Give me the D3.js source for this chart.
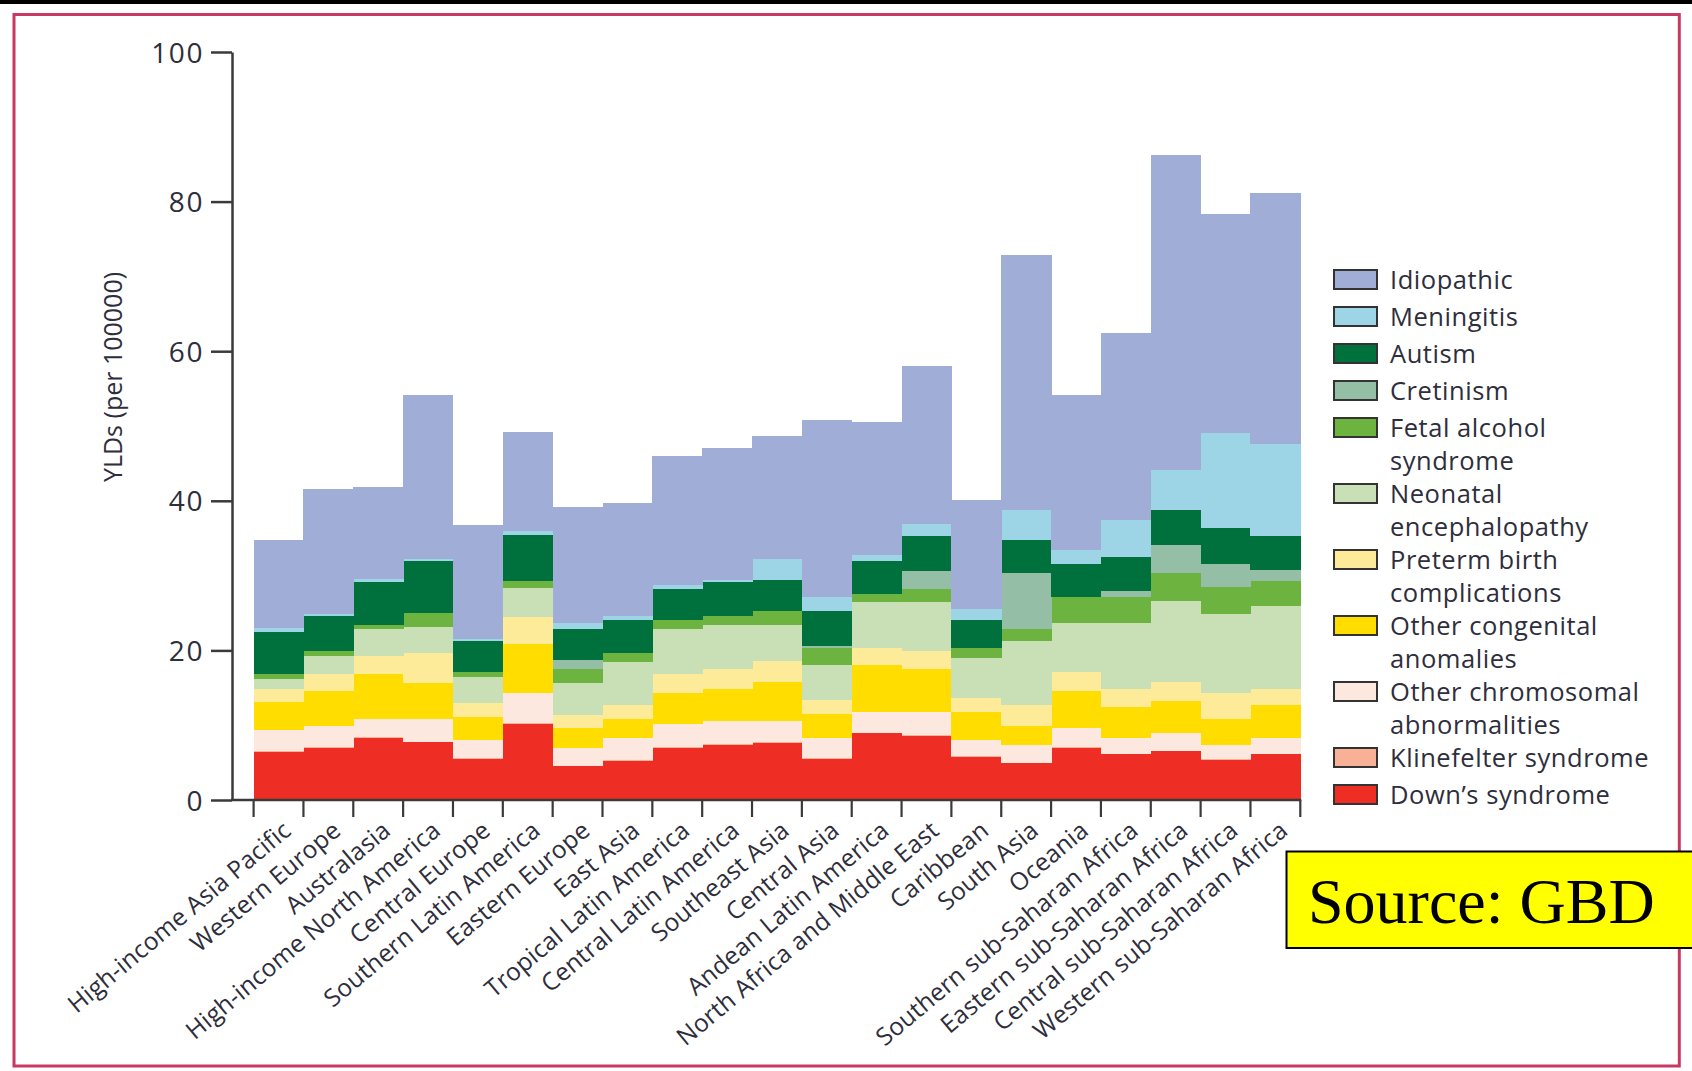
<!DOCTYPE html>
<html>
<head>
<meta charset="utf-8">
<script src="https://cdn.jsdelivr.net/npm/d3@7"></script>
<style>
  html, body { margin: 0; padding: 0; background: #fff; }
  svg { display: block; }
</style>
</head>
<body>
<svg id="chart" width="1692" height="1071"></svg>
<script>
// GBD regions, in plotting order
const regions = [
  "High-income Asia Pacific", "Western Europe", "Australasia", "High-income North America",
  "Central Europe", "Southern Latin America", "Eastern Europe", "East Asia",
  "Tropical Latin America", "Central Latin America", "Southeast Asia", "Central Asia",
  "Andean Latin America", "North Africa and Middle East", "Caribbean", "South Asia",
  "Oceania", "Southern sub-Saharan Africa", "Eastern sub-Saharan Africa",
  "Central sub-Saharan Africa", "Western sub-Saharan Africa"
];

// YLDs per 100000, one value per region, by cause
const downSyndrome     = [6.4, 7.0, 8.3, 7.7, 5.5, 10.2, 4.5, 5.2, 7.0, 7.4, 7.6, 5.5, 8.9, 8.6, 5.8, 4.9, 7.0, 6.1, 6.5, 5.4, 6.1];
const klinefelter      = [0.1, 0.1, 0.1, 0.1, 0.1, 0.1, 0.1, 0.1, 0.1, 0.1, 0.1, 0.1, 0.1, 0.1, 0.1, 0.1, 0.1, 0.1, 0.1, 0.1, 0.1];
const otherChromosomal = [2.8, 2.75, 2.4, 3.0, 2.4, 4.0, 2.4, 3.0, 3.1, 3.0, 2.8, 2.7, 2.8, 3.1, 2.1, 2.4, 2.5, 2.1, 2.3, 1.9, 2.1];
const otherCongenital  = [3.8, 4.75, 6.0, 4.8, 3.1, 6.6, 2.6, 2.5, 4.1, 4.4, 5.3, 3.2, 6.2, 5.7, 3.8, 2.5, 5.0, 4.1, 4.4, 3.4, 4.4];
const pretermBirth     = [1.8, 2.2, 2.5, 4.0, 1.9, 3.5, 1.8, 1.9, 2.5, 2.6, 2.8, 1.9, 2.3, 2.4, 1.9, 2.8, 2.5, 2.5, 2.5, 3.5, 2.2];
const neonatalEnceph   = [1.3, 2.5, 3.5, 3.5, 3.5, 4.0, 4.2, 5.7, 6.0, 5.9, 4.8, 4.6, 6.2, 6.6, 5.3, 8.6, 6.6, 8.8, 10.8, 10.5, 11.0];
const fetalAlcohol     = [0.6, 0.6, 0.6, 1.9, 0.6, 0.9, 1.9, 1.2, 1.3, 1.2, 1.9, 2.3, 1.0, 1.7, 1.3, 1.5, 3.5, 3.5, 3.7, 3.7, 3.4];
const cretinism        = [0.0, 0.0, 0.0, 0.0, 0.0, 0.0, 1.2, 0.0, 0.0, 0.0, 0.0, 0.3, 0.0, 2.4, 0.0, 7.5, 0.0, 0.7, 3.8, 3.0, 1.4];
const autism           = [5.7, 4.7, 5.7, 6.9, 4.1, 6.1, 4.1, 4.5, 4.1, 4.5, 4.1, 4.7, 4.4, 4.7, 3.8, 4.4, 4.4, 4.6, 4.7, 4.8, 4.6];
const meningitis       = [0.5, 0.3, 0.5, 0.3, 0.3, 0.5, 0.9, 0.5, 0.5, 0.3, 2.8, 1.9, 0.9, 1.6, 1.4, 4.1, 1.8, 5.0, 5.3, 12.8, 12.3];
const idiopathic       = [11.7, 16.7, 12.3, 22.0, 15.2, 13.3, 15.5, 15.1, 17.3, 17.6, 16.4, 23.6, 17.7, 21.1, 14.6, 34.0, 20.8, 24.9, 42.1, 29.3, 33.6];

const yTicks = [0, 20, 40, 60, 80, 100];

// Causes, bottom of the stack first
const causes = [
  { key: "down",        lines: ["Down\u2019s syndrome"],                     color: "#ee2e24", values: downSyndrome },
  { key: "klinefelter", lines: ["Klinefelter syndrome"],                     color: "#f8b096", values: klinefelter },
  { key: "chromosomal", lines: ["Other chromosomal", "abnormalities"],       color: "#fde8df", values: otherChromosomal },
  { key: "congenital",  lines: ["Other congenital", "anomalies"],            color: "#ffdd00", values: otherCongenital },
  { key: "preterm",     lines: ["Preterm birth", "complications"],           color: "#fdeb99", values: pretermBirth },
  { key: "neonatal",    lines: ["Neonatal", "encephalopathy"],               color: "#c9e0b6", values: neonatalEnceph },
  { key: "fetal",       lines: ["Fetal alcohol", "syndrome"],                color: "#6cb33f", values: fetalAlcohol },
  { key: "cretinism",   lines: ["Cretinism"],                                color: "#94bea6", values: cretinism },
  { key: "autism",      lines: ["Autism"],                                   color: "#00703c", values: autism },
  { key: "meningitis",  lines: ["Meningitis"],                               color: "#9dd5e6", values: meningitis },
  { key: "idiopathic",  lines: ["Idiopathic"],                               color: "#a0aed7", values: idiopathic }
];

const TEXT = "#2e2e3c";
const FONT = "'Open Sans', 'Noto Sans', sans-serif";
const W = 1692, H = 1071;

const svg = d3.select("#chart");
svg.append("rect").attr("width", W).attr("height", H).attr("fill", "#fff");

// black rule along the top edge and crimson frame
svg.append("rect").attr("x", 0).attr("y", 0).attr("width", W).attr("height", 4).attr("fill", "#000");
svg.append("rect")
  .attr("x", 14).attr("y", 14.5).attr("width", 1665.3).attr("height", 1051.5)
  .attr("fill", "none").attr("stroke", "#c93862").attr("stroke-width", 3);

// scales
const x = d3.scaleBand().domain(regions).range([253.6, 1300.3]).padding(0);
const y = d3.scaleLinear().domain([0, 100]).range([800, 52]);
const axisX = 232;

// stacked bars
const table = regions.map((r, i) => {
  const row = { region: r };
  causes.forEach(c => { row[c.key] = c.values[i]; });
  return row;
});
const stacked = d3.stack().keys(causes.map(c => c.key))(table);
const colorOf = Object.fromEntries(causes.map(c => [c.key, c.color]));

svg.append("g")
  .attr("shape-rendering", "crispEdges")
  .selectAll("g")
  .data(stacked)
  .join("g")
  .attr("fill", d => colorOf[d.key])
  .selectAll("rect")
  .data(d => d.filter(p => p[1] - p[0] > 0))
  .join("rect")
  .attr("x", d => x(d.data.region))
  .attr("width", x.bandwidth() + 0.5)
  .attr("y", d => y(d[1]))
  .attr("height", d => y(d[0]) - y(d[1]));

// y axis
const gy = svg.append("g")
  .attr("transform", `translate(${axisX},0)`)
  .call(d3.axisLeft(y).tickValues(yTicks).tickSize(21).tickSizeOuter(0).tickPadding(7));
gy.select(".domain").attr("stroke", "#3a3a3a").attr("stroke-width", 2.5);
gy.selectAll(".tick line").attr("stroke", "#3a3a3a").attr("stroke-width", 2.5);
gy.selectAll(".tick text")
  .attr("fill", TEXT)
  .attr("font-family", FONT)
  .attr("font-size", 28)
  .attr("letter-spacing", 1.6)
  .attr("dy", "0.36em");

// x axis: baseline, boundary ticks and rotated region names
const xEnd = x.range()[1];
svg.append("line")
  .attr("x1", axisX - 1).attr("x2", xEnd + 1)
  .attr("y1", y(0)).attr("y2", y(0))
  .attr("stroke", "#3a3a3a").attr("stroke-width", 2.5);

const boundaries = regions.map(r => x(r)).concat([xEnd]);
svg.append("g").selectAll("line")
  .data(boundaries)
  .join("line")
  .attr("x1", d => d).attr("x2", d => d)
  .attr("y1", y(0)).attr("y2", y(0) + 17)
  .attr("stroke", "#3a3a3a").attr("stroke-width", 2.2);

const gx = svg.append("g")
  .attr("transform", `translate(0,${y(0)})`)
  .call(d3.axisBottom(x).tickSize(0).tickPadding(0));
gx.select(".domain").remove();
gx.selectAll(".tick text")
  .attr("fill", TEXT)
  .attr("font-family", FONT)
  .attr("font-size", 24.5)
  .attr("letter-spacing", 0.2)
  .attr("text-anchor", "end")
  .attr("x", 0).attr("y", 0).attr("dy", null)
  .attr("transform", "translate(14,33) rotate(-40)");

// y axis title
svg.append("text")
  .attr("transform", "translate(122,377) rotate(-90)")
  .attr("text-anchor", "middle")
  .attr("fill", TEXT)
  .attr("font-family", FONT)
  .attr("font-size", 25)
  .text("YLDs (per 100000)");

// legend, top of the stack first
const legendItems = causes.slice().reverse();
const lineStep = 33.4;      // spacing of wrapped lines inside one entry
const singleGap = 37;       // advance after a one-line entry
const doubleGap = 66;       // advance after a two-line entry
let cy = 279.5;
const legendRows = legendItems.map(c => {
  const row = { cause: c, y: cy };
  cy += c.lines.length > 1 ? doubleGap : singleGap;
  return row;
});
const lg = svg.append("g");
const item = lg.selectAll("g").data(legendRows).join("g")
  .attr("transform", d => `translate(0,${d.y})`);
item.append("rect")
  .attr("x", 1334).attr("y", -9.5).attr("width", 43).attr("height", 19)
  .attr("fill", d => d.cause.color)
  .attr("stroke", "#333").attr("stroke-width", 2);
item.append("text")
  .attr("fill", TEXT)
  .attr("font-family", FONT)
  .attr("font-size", 25.5)
  .attr("letter-spacing", 0.55)
  .selectAll("tspan")
  .data(d => d.cause.lines)
  .join("tspan")
  .attr("x", 1390)
  .attr("y", (d, i) => 9 + i * lineStep)
  .text(d => d);

// source note
const src = svg.append("g");
src.append("rect")
  .attr("x", 1286.5).attr("y", 851.5).attr("width", 420).attr("height", 96.5)
  .attr("fill", "#ffff00").attr("stroke", "#000").attr("stroke-width", 2);
src.append("text")
  .attr("x", 1308).attr("y", 923)
  .attr("fill", "#000")
  .attr("font-family", "'Liberation Serif', 'Times New Roman', serif")
  .attr("font-size", 64)
  .text("Source: GBD");
</script>
</body>
</html>
